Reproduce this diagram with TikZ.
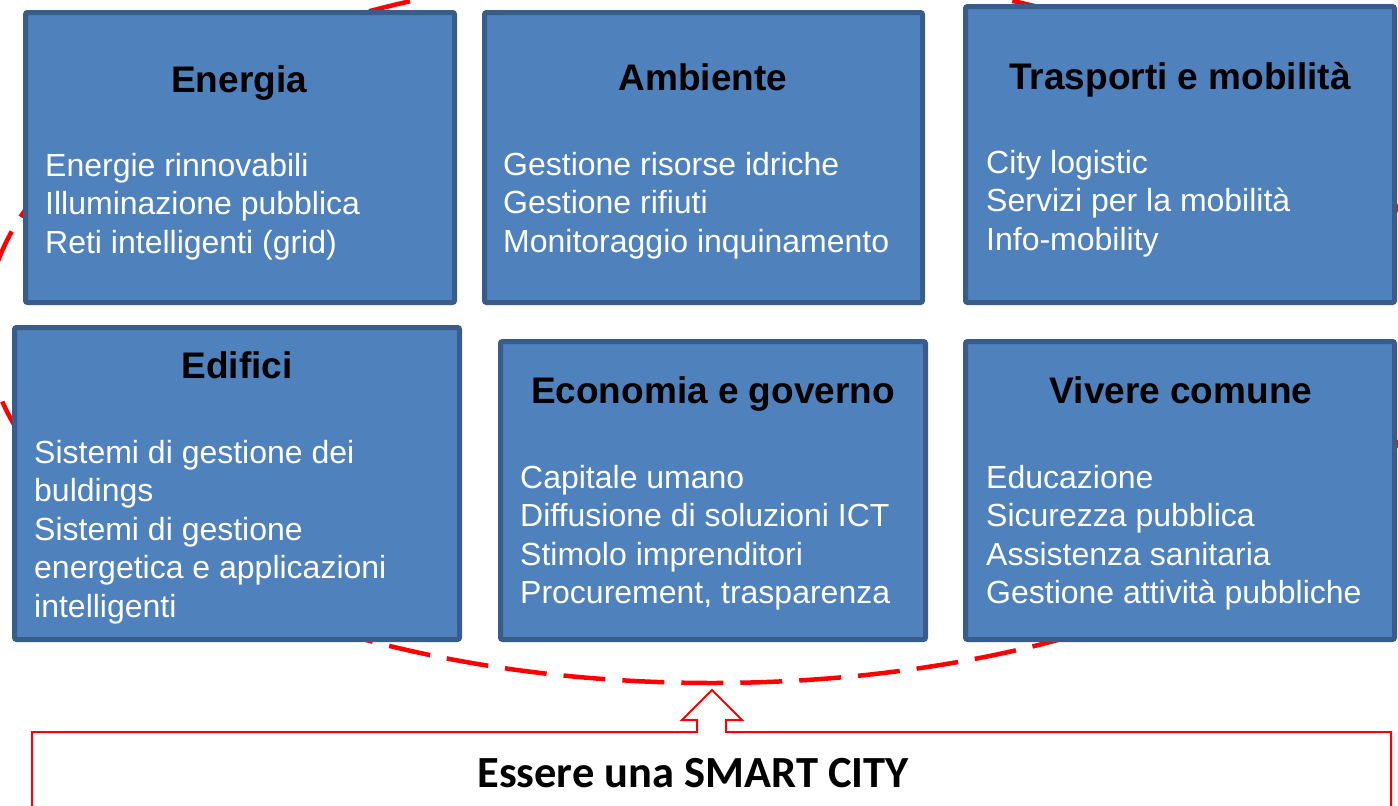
\documentclass[tikz,border=0pt]{standalone}
\usepackage{fontspec}
\setmainfont{Liberation Sans}
\newfontfamily\calib{Carlito}
\definecolor{boxfill}{HTML}{4F81BD}
\definecolor{boxline}{HTML}{385D8A}
\begin{document}
\begin{tikzpicture}[x=1pt,y=-1pt,
  catbox/.style={draw=boxline, fill=boxfill, line width=5pt, rounded corners=2pt, inner sep=0pt},
  cattitle/.style={anchor=base, inner sep=0pt, font=\fontsize{37}{44}\selectfont\bfseries, text=black},
  catbody/.style={anchor=base west, inner sep=0pt, font=\fontsize{32}{38.5}\selectfont, text=white},
  ring/.style={draw=red, line width=4.5pt, dash pattern=on 42pt off 17pt},
  goalbox/.style={draw=red, fill=white, line width=2pt}]
\useasboundingbox (0,0) rectangle (1398,806);
% dashed ellipse behind
\draw[ring] (712,326) ellipse [x radius=726pt, y radius=357pt];
% boxes
\node[catbox, minimum width=429pt, minimum height=290pt] (b1) at (240,157.5) {};
\node[catbox, minimum width=438pt, minimum height=290pt] (b2) at (703.5,157.5) {};
\node[catbox, minimum width=429pt, minimum height=296pt] (b3) at (1180,154.5) {};
\node[catbox, minimum width=445pt, minimum height=312pt] (b4) at (237,483.5) {};
\node[catbox, minimum width=425pt, minimum height=298pt] (b5) at (713,490.5) {};
\node[catbox, minimum width=429pt, minimum height=298pt] (b6) at (1180,490.5) {};
% titles
\node[cattitle] (t1) at (239,92) {Energia};
\node[cattitle] (t2) at (703,90) {Ambiente};
\node[cattitle] (t3) at (1180,89) {Trasporti e mobilità};
\node[cattitle] (t4) at (237,378) {Edifici};
\node[cattitle] (t5) at (713,403) {Economia e governo};
\node[cattitle] (t6) at (1181,403) {Vivere comune};
% bodies
\node[catbody] (c1) at (45,176) {\begin{tabular}[t]{@{}l@{}}Energie rinnovabili\\Illuminazione pubblica\\Reti intelligenti (grid)\end{tabular}};
\node[catbody] (c2) at (503,175) {\begin{tabular}[t]{@{}l@{}}Gestione risorse idriche\\Gestione rifiuti\\Monitoraggio inquinamento\end{tabular}};
\node[catbody] (c3) at (986,173) {\begin{tabular}[t]{@{}l@{}}City logistic\\Servizi per la mobilità\\Info-mobility\end{tabular}};
\node[catbody] (c4) at (34,463) {\begin{tabular}[t]{@{}l@{}}Sistemi di gestione dei\\buldings\\Sistemi di gestione\\energetica e applicazioni\\intelligenti\end{tabular}};
\node[catbody] (c5) at (520,488) {\begin{tabular}[t]{@{}l@{}}Capitale umano\\Diffusione di soluzioni ICT\\Stimolo imprenditori\\Procurement, trasparenza\end{tabular}};
\node[catbody] (c6) at (986,488) {\begin{tabular}[t]{@{}l@{}}Educazione\\Sicurezza pubblica\\Assistenza sanitaria\\Gestione attività pubbliche\end{tabular}};
% goal box with arrow
\coordinate (tip) at (712,690);
\draw[goalbox] (32,830) -- (32,732) -- (697,732) -- (697,720) -- (682,720) -- (tip) -- (742,720) -- (726,720) -- (726,732) -- (1391,732) -- (1391,830);
\node[anchor=base, inner sep=0pt, font=\calib\fontsize{44.5}{54}\selectfont\bfseries] (goal) at (693,787) {Essere una SMART CITY};
\end{tikzpicture}
\end{document}
